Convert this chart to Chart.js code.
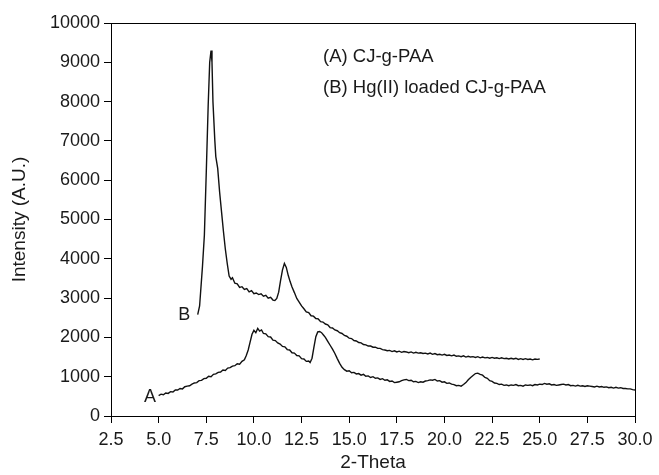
<!DOCTYPE html>
<html>
<head>
<meta charset="utf-8">
<script src="https://cdn.jsdelivr.net/npm/chart.js@4.4.0/dist/chart.umd.min.js"></script>
<style>
html,body{margin:0;padding:0;background:#fff;}
#wrap{width:659px;height:475px;position:relative;}
</style>
</head>
<body>
<div id="wrap"><canvas id="c" width="659" height="475"></canvas></div>
<script>
// Curve A: CJ-g-PAA  (2-Theta, intensity)
const aX = [5.0,5.125,5.25,5.375,5.5,5.625,5.75,5.875,6.0,6.125,6.25,6.375,6.5,6.625,6.75,6.875,7.0,7.125,7.25,7.375,7.5,7.625,7.75,7.875,8.0,8.125,8.25,8.375,8.5,8.625,8.75,8.875,9.0,9.125,9.25,9.375,9.5,9.6,9.7,9.8,9.9,10.0,10.1,10.2,10.3,10.4,10.5,10.625,10.75,10.875,11.0,11.125,11.25,11.375,11.5,11.625,11.75,11.875,12.0,12.125,12.25,12.375,12.5,12.625,12.75,12.875,12.95,13.05,13.15,13.25,13.35,13.45,13.55,13.65,13.75,13.875,14.0,14.125,14.25,14.375,14.5,14.625,14.75,14.875,15.0,15.125,15.25,15.375,15.5,15.625,15.75,15.875,16.0,16.125,16.25,16.375,16.5,16.625,16.75,16.875,17.0,17.125,17.25,17.375,17.5,17.625,17.75,17.875,18.0,18.125,18.25,18.375,18.5,18.625,18.75,18.875,19.0,19.125,19.25,19.375,19.5,19.625,19.75,19.875,20.0,20.125,20.25,20.375,20.5,20.625,20.75,20.875,21.0,21.125,21.25,21.375,21.5,21.625,21.75,21.875,22.0,22.125,22.25,22.375,22.5,22.625,22.75,22.875,23.0,23.125,23.25,23.375,23.5,23.625,23.75,23.875,24.0,24.125,24.25,24.375,24.5,24.625,24.75,24.875,25.0,25.125,25.25,25.375,25.5,25.625,25.75,25.875,26.0,26.125,26.25,26.375,26.5,26.625,26.75,26.875,27.0,27.125,27.25,27.375,27.5,27.625,27.75,27.875,28.0,28.125,28.25,28.375,28.5,28.625,28.75,28.875,29.0,29.125,29.25,29.375,29.5,29.625,29.75,29.875,30.0];
const aY = [520,555,540,585,575,620,610,665,660,700,690,745,760,770,810,840,850,900,905,950,960,1010,1000,1060,1070,1110,1120,1170,1160,1220,1230,1270,1280,1330,1320,1390,1430,1540,1680,1880,2080,2180,2120,2230,2160,2190,2100,2090,2020,2010,1930,1920,1860,1830,1770,1760,1690,1680,1610,1600,1540,1530,1460,1450,1390,1400,1360,1470,1750,2020,2140,2150,2120,2060,2000,1900,1800,1700,1590,1460,1340,1240,1180,1140,1150,1100,1110,1070,1080,1040,1060,1010,1020,980,1000,960,970,930,950,910,920,880,890,850,860,870,900,920,930,900,910,870,880,850,870,860,890,900,920,910,930,890,900,860,870,830,840,810,800,770,780,760,800,850,920,980,1030,1080,1090,1060,1040,980,960,900,880,840,830,800,810,780,790,770,790,780,800,770,780,760,790,780,790,770,800,790,810,800,830,810,820,790,800,780,790,800,810,790,800,770,780,760,780,760,770,750,770,760,750,740,760,740,750,730,740,720,730,710,730,710,720,700,700,690,690,670,660];
// Curve B: Hg(II) loaded CJ-g-PAA
const bX = [7.05,7.15,7.3,7.4,7.5,7.6,7.68,7.75,7.8,7.85,7.95,8.0,8.1,8.2,8.3,8.4,8.5,8.6,8.7,8.8,8.875,9.0,9.125,9.25,9.375,9.5,9.625,9.75,9.875,10.0,10.125,10.25,10.375,10.5,10.625,10.75,10.875,11.0,11.1,11.2,11.3,11.4,11.5,11.6,11.7,11.8,11.9,12.0,12.125,12.25,12.375,12.5,12.625,12.75,12.875,13.0,13.125,13.25,13.375,13.5,13.625,13.75,13.875,14.0,14.125,14.25,14.375,14.5,14.625,14.75,14.875,15.0,15.125,15.25,15.375,15.5,15.625,15.75,15.875,16.0,16.125,16.25,16.375,16.5,16.625,16.75,16.875,17.0,17.125,17.25,17.375,17.5,17.625,17.75,17.875,18.0,18.125,18.25,18.375,18.5,18.625,18.75,18.875,19.0,19.125,19.25,19.375,19.5,19.625,19.75,19.875,20.0,20.125,20.25,20.375,20.5,20.625,20.75,20.875,21.0,21.125,21.25,21.375,21.5,21.625,21.75,21.875,22.0,22.125,22.25,22.375,22.5,22.625,22.75,22.875,23.0,23.125,23.25,23.375,23.5,23.625,23.75,23.875,24.0,24.125,24.25,24.375,24.5,24.625,24.75,24.875,25.0];
const bY = [2580,2800,3800,4600,6200,7900,9000,9300,9000,8000,7000,6600,6300,5700,5200,4700,4250,3880,3560,3480,3520,3380,3360,3270,3290,3220,3240,3160,3190,3110,3130,3090,3110,3050,3070,3000,3020,2950,2940,2990,3150,3450,3720,3880,3780,3580,3420,3280,3140,2990,2900,2800,2730,2650,2630,2550,2540,2480,2470,2400,2390,2340,2320,2250,2240,2190,2170,2120,2100,2050,2030,1980,1970,1920,1910,1870,1860,1820,1810,1780,1780,1750,1750,1720,1720,1690,1680,1660,1670,1640,1660,1630,1650,1620,1640,1630,1610,1630,1600,1620,1600,1610,1590,1600,1580,1600,1570,1590,1560,1570,1550,1570,1540,1550,1530,1550,1520,1530,1510,1530,1500,1520,1500,1510,1490,1510,1480,1500,1480,1490,1470,1490,1470,1480,1460,1480,1460,1470,1450,1470,1450,1470,1440,1460,1440,1460,1440,1450,1430,1450,1440,1450];
const xTicks = [2.5,5.0,7.5,10.0,12.5,15.0,17.5,20.0,22.5,25.0,27.5,30.0];
const yTicks = [0,1000,2000,3000,4000,5000,6000,7000,8000,9000,10000];
const legendLines = ["(A) CJ-g-PAA","(B) Hg(II) loaded CJ-g-PAA"];
const curveLabels = [{t:"A", x:4.55, y:480},{t:"B", x:6.35, y:2570}];

const FONT = "'Liberation Sans', Arial, sans-serif";
const toPts = (xs, ys) => xs.map((x,i)=>({x:x,y:ys[i]}));

const textPlugin = {
  id:'texts',
  afterDraw(chart){
    const ctx = chart.ctx, ca = chart.chartArea;
    const sx = chart.scales.x, sy = chart.scales.y;
    ctx.save();
    ctx.strokeStyle = '#000';
    ctx.lineWidth = 1;
    ctx.strokeRect(Math.round(ca.left)+0.5, Math.round(ca.top)+0.5, Math.round(ca.right-ca.left), Math.round(ca.bottom-ca.top));
    ctx.fillStyle = '#1a1a1a';
    ctx.font = "18.5px " + FONT;
    ctx.textBaseline = 'middle';
    ctx.textAlign = 'left';
    ctx.fillText(legendLines[0], 323, 57);
    ctx.fillText(legendLines[1], 323, 88);
    ctx.font = "18px " + FONT;
    ctx.textAlign = 'center';
    curveLabels.forEach(l => {
      ctx.fillText(l.t, sx.getPixelForValue(l.x), sy.getPixelForValue(l.y));
    });
    ctx.restore();
  }
};

new Chart(document.getElementById('c'), {
  type:'line',
  data:{
    datasets:[
      {label:'A', data:toPts(aX,aY), borderColor:'#111', borderWidth:1.4, pointRadius:0, tension:0, fill:false},
      {label:'B', data:toPts(bX,bY), borderColor:'#111', borderWidth:1.4, pointRadius:0, tension:0, fill:false}
    ]
  },
  options:{
    responsive:false,
    animation:false,
    layout:{padding:{top:23,right:24,left:0,bottom:0}},
    plugins:{legend:{display:false},tooltip:{enabled:false}},
    scales:{
      x:{
        type:'linear', min:2.5, max:30,
        afterBuildTicks: s => { s.ticks = xTicks.map(v=>({value:v})); },
        ticks:{callback:v=>Number(v).toFixed(1), font:{size:18, family:FONT}, color:'#1a1a1a', padding:6, maxRotation:0, autoSkip:false},
        grid:{drawOnChartArea:false, drawTicks:true, tickLength:7, color:'#000'},
        border:{display:true, color:'#000', width:1},
        title:{display:true, text:'2-Theta', font:{size:19, family:FONT}, color:'#1a1a1a', padding:{top:0,bottom:1}},
        afterFit: s => { s.height = 59; }
      },
      y:{
        type:'linear', min:0, max:10000,
        afterBuildTicks: s => { s.ticks = yTicks.map(v=>({value:v})); },
        ticks:{callback:v=>String(v), font:{size:18, family:FONT}, color:'#1a1a1a', padding:4, autoSkip:false},
        grid:{drawOnChartArea:false, drawTicks:true, tickLength:7, color:'#000'},
        border:{display:true, color:'#000', width:1},
        title:{display:true, text:'Intensity (A.U.)', font:{size:19, family:FONT}, color:'#1a1a1a', padding:{top:8,bottom:0}},
        afterFit: s => { s.width = 111; }
      }
    }
  },
  plugins:[textPlugin]
});
</script>
</body>
</html>
